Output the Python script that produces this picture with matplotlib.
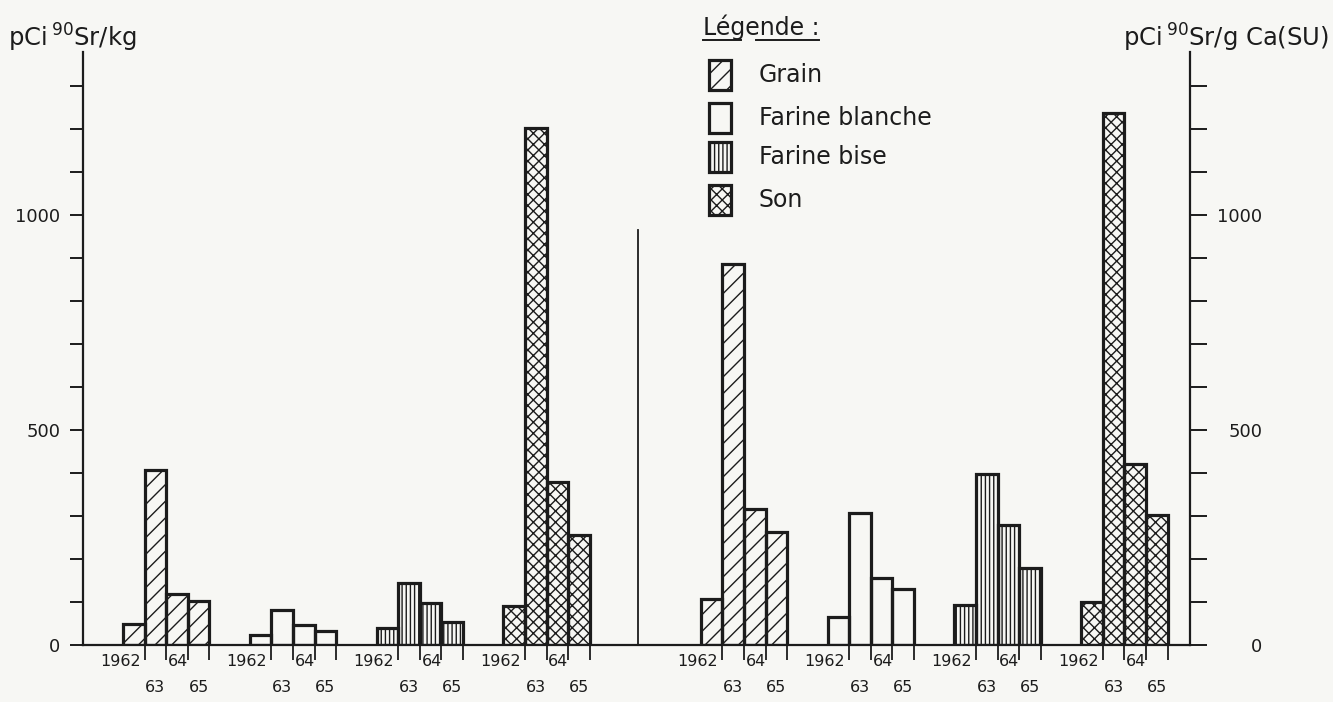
import numpy as np
import matplotlib
matplotlib.use("Agg")
import matplotlib.pyplot as plt
from matplotlib.patches import Rectangle

# --- données ---
years = ["1962", "63", "64", "65"]
produits = ["Grain", "Farine blanche", "Farine bise", "Son"]
hachures = ["//", "", "||||", "xxx"]

# pCi 90Sr / kg (échelle de gauche)
grain_kg = [50, 407, 119, 102]
blanche_kg = [23, 81, 47, 33]
bise_kg = [40, 144, 98, 53]
son_kg = [91, 1202, 379, 256]

# pCi 90Sr / g Ca (SU) (échelle de droite)
grain_su = [107, 886, 316, 263]
blanche_su = [65, 307, 156, 130]
bise_su = [93, 398, 279, 179]
son_su = [100, 1237, 421, 302]

left_vals = [grain_kg, blanche_kg, bise_kg, son_kg]
right_vals = [grain_su, blanche_su, bise_su, son_su]

# --- mise en page (en unités de largeur de barre) ---
W, H = 1333, 702
UNIT = 21.6                       # px par barre
X_LEFT, X_RIGHT, Y_BASE, Y_TOP = 83, 1190, 645, 52
PX_PER_VAL = 0.43
GROUP_STEP = 5.87
LEFT_START = 1.85
RIGHT_START = 28.6
DIVIDER_X = (638 - X_LEFT) / UNIT
DIVIDER_TOP = 965

INK = "#1c1c1c"
plt.rcParams["font.family"] = ["DejaVu Sans"]
plt.rcParams["hatch.linewidth"] = 1.0
plt.rcParams["hatch.color"] = INK

fig = plt.figure(figsize=(W / 100, H / 100), dpi=100, facecolor="#f7f7f4")
ax = fig.add_axes([X_LEFT / W, 1 - Y_BASE / H, (X_RIGHT - X_LEFT) / W, (Y_BASE - Y_TOP) / H])
ax.set_facecolor("none")
ax2 = ax.twinx()

ymax = (Y_BASE - Y_TOP) / PX_PER_VAL
for a in (ax, ax2):
    a.set_xlim(0, (X_RIGHT - X_LEFT) / UNIT)
    a.set_ylim(0, ymax)
    for s in a.spines.values():
        s.set_color(INK)
        s.set_linewidth(1.6)
    a.spines["top"].set_visible(False)

ax.spines["right"].set_visible(False)
ax2.spines["left"].set_visible(False)
ax2.spines["bottom"].set_visible(False)


def draw_groups(axis, starts, values_list):
    bounds = []
    for start, vals, h in zip(starts, values_list, hachures):
        x = start + 0.5 + np.arange(len(vals))
        axis.bar(x, vals, width=1.0, facecolor="none", edgecolor=INK,
                 linewidth=2.3, hatch=h, zorder=3)
        bounds.extend(start + np.arange(1, 5))
        # étiquettes des années
        for k, yr in enumerate(years):
            if k == 0:
                xx, dx, dy, ha = start + 1, -4, 17, "right"
            else:
                xx, dx, dy, ha = start + k + 0.5, 1 if k == 2 else 0, 17 if k == 2 else 42, "center"
            axis.annotate(yr, xy=(xx, 0), xycoords=("data", "axes fraction"),
                          xytext=(dx, -dy), textcoords="offset pixels",
                          ha=ha, va="center", fontsize=11.5, color=INK)
    return bounds


left_starts = [LEFT_START + GROUP_STEP * i for i in range(4)]
right_starts = [RIGHT_START + GROUP_STEP * i for i in range(4)]
b1 = draw_groups(ax, left_starts, left_vals)
b2 = draw_groups(ax2, right_starts, right_vals)

ax.set_xticks(b1 + b2)
ax.set_xticklabels([])
ax.tick_params(axis="x", direction="out", length=11, width=1.3, color=INK)
ax2.tick_params(axis="x", length=0)

# séparation centrale
ax.plot([DIVIDER_X, DIVIDER_X], [0, DIVIDER_TOP], color=INK, lw=1.3, zorder=2)

# axes verticaux
ticks = np.arange(0, 1301, 100)
lbls = ["0" if t == 0 else str(t) if t % 500 == 0 else "" for t in ticks]
ax.set_yticks(ticks)
ax.set_yticklabels(lbls)
ax.tick_params(axis="y", direction="out", length=9.5, width=1.4, pad=7,
               labelsize=13, colors=INK)
ax2.set_yticks(ticks)
ax2.set_yticklabels(lbls)
ax2.tick_params(axis="y", direction="out", length=12, width=1.4, pad=40,
                labelsize=13, colors=INK)
for t in ax2.get_yticklabels():
    t.set_horizontalalignment("right")

# titres d'axes
fig.text(8 / W, 1 - 38 / H, r"pCi$\,^{90}$Sr/kg", fontsize=17.5, color=INK,
         ha="left", va="center")
fig.text(1329 / W, 1 - 38 / H, r"pCi$\,^{90}$Sr/g Ca(SU)", fontsize=17.5, color=INK,
         ha="right", va="center")

# légende
ov = fig.add_axes([0, 0, 1, 1], facecolor="none")
ov.set_xlim(0, W)
ov.set_ylim(H, 0)
ov.axis("off")
ov.text(703, 27, "Légende :", fontsize=17, color=INK, ha="left", va="center")
ov.plot([703, 741], [40, 40], color=INK, lw=1.4)
ov.plot([756, 819], [40, 40], color=INK, lw=1.4)
rows = [75, 118, 157, 200]
for nom, h, yc in zip(produits, hachures, rows):
    ov.add_patch(Rectangle((709, yc - 15), 22, 30, facecolor="none",
                           edgecolor=INK, lw=2.3, hatch=h))
    ov.text(759, yc, nom, fontsize=17, color=INK, ha="left", va="center")

fig.savefig("out.png", dpi=100, facecolor=fig.get_facecolor())
